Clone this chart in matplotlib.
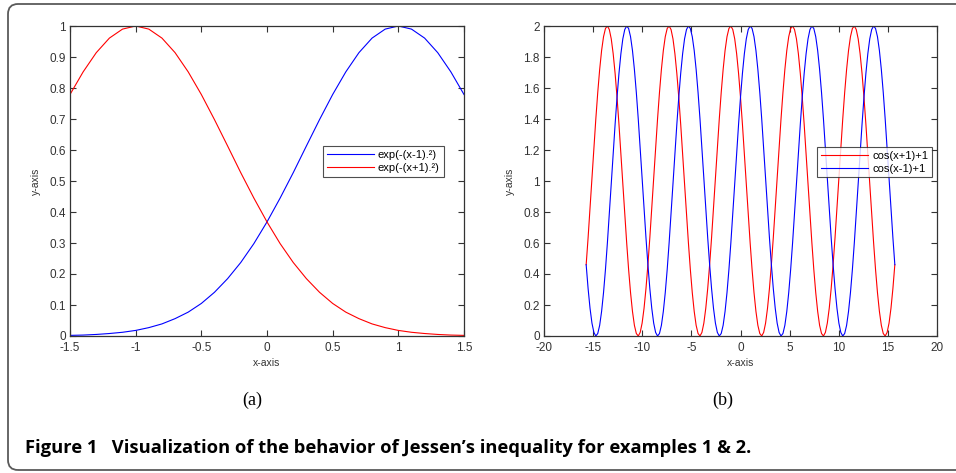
import numpy as np
import matplotlib
matplotlib.use("Agg")
import matplotlib.pyplot as plt
from matplotlib.patches import FancyBboxPatch
from matplotlib.transforms import IdentityTransform

plt.rcParams['font.family'] = ['Liberation Sans', 'DejaVu Sans']

# ---------------- data: panel (a) ----------------
x_a = [-1.5, -1.4, -1.3, -1.2, -1.1, -1.0, -0.9, -0.8, -0.7, -0.6, -0.5,
       -0.4, -0.3, -0.2, -0.1, 0.0, 0.1, 0.2, 0.3, 0.4, 0.5,
       0.6, 0.7, 0.8, 0.9, 1.0, 1.1, 1.2, 1.3, 1.4, 1.5]
exp_minus = [0.002, 0.003, 0.005, 0.008, 0.012, 0.018, 0.027, 0.039, 0.056, 0.077, 0.105,
             0.141, 0.185, 0.237, 0.298, 0.368, 0.445, 0.527, 0.613, 0.698, 0.779,
             0.852, 0.914, 0.961, 0.990, 1.000, 0.990, 0.961, 0.914, 0.852, 0.779]
exp_plus = [0.779, 0.852, 0.914, 0.961, 0.990, 1.000, 0.990, 0.961, 0.914, 0.852, 0.779,
            0.698, 0.613, 0.527, 0.445, 0.368, 0.298, 0.237, 0.185, 0.141, 0.105,
            0.077, 0.056, 0.039, 0.027, 0.018, 0.012, 0.008, 0.005, 0.003, 0.002]
labels_a = ['exp(-(x-1).²)', 'exp(-(x+1).²)']
xticks_a = [-1.5, -1, -0.5, 0, 0.5, 1, 1.5]
xticklabels_a = ['-1.5', '-1', '-0.5', '0', '0.5', '1', '1.5']
yticks_a = [0, 0.1, 0.2, 0.3, 0.4, 0.5, 0.6, 0.7, 0.8, 0.9, 1]
yticklabels_a = ['0', '0.1', '0.2', '0.3', '0.4', '0.5', '0.6', '0.7', '0.8', '0.9', '1']

# ---------------- data: panel (b) ----------------
x_b_start, x_b_end, x_b_count = -5 * np.pi, 5 * np.pi, 161
cos_plus = [
    0.460, 0.634, 0.823, 1.018, 1.213, 1.400, 1.571, 1.720, 1.842, 1.931, 1.984, 2.000, 1.977, 1.917, 1.821, 1.694,
    1.540, 1.366, 1.177, 0.982, 0.787, 0.601, 0.429, 0.280, 0.159, 0.069, 0.016, 0.000, 0.023, 0.083, 0.179, 0.306,
    0.460, 0.634, 0.823, 1.018, 1.213, 1.400, 1.571, 1.720, 1.842, 1.931, 1.984, 2.000, 1.977, 1.917, 1.821, 1.694,
    1.540, 1.366, 1.177, 0.982, 0.787, 0.601, 0.429, 0.280, 0.159, 0.069, 0.016, 0.000, 0.023, 0.083, 0.179, 0.306,
    0.460, 0.634, 0.823, 1.018, 1.213, 1.400, 1.571, 1.720, 1.842, 1.931, 1.984, 2.000, 1.977, 1.917, 1.821, 1.694,
    1.540, 1.366, 1.177, 0.982, 0.787, 0.601, 0.429, 0.280, 0.159, 0.069, 0.016, 0.000, 0.023, 0.083, 0.179, 0.306,
    0.460, 0.634, 0.823, 1.018, 1.213, 1.400, 1.571, 1.720, 1.842, 1.931, 1.984, 2.000, 1.977, 1.917, 1.821, 1.694,
    1.540, 1.366, 1.177, 0.982, 0.787, 0.601, 0.429, 0.280, 0.159, 0.069, 0.016, 0.000, 0.023, 0.083, 0.179, 0.306,
    0.460, 0.634, 0.823, 1.018, 1.213, 1.400, 1.571, 1.720, 1.842, 1.931, 1.984, 2.000, 1.977, 1.917, 1.821, 1.694,
    1.540, 1.366, 1.177, 0.982, 0.787, 0.601, 0.429, 0.280, 0.159, 0.069, 0.016, 0.000, 0.023, 0.083, 0.179, 0.306,
    0.460]
cos_minus = [
    0.460, 0.306, 0.179, 0.083, 0.023, 0.000, 0.016, 0.069, 0.159, 0.280, 0.429, 0.601, 0.787, 0.982, 1.177, 1.366,
    1.540, 1.694, 1.821, 1.917, 1.977, 2.000, 1.984, 1.931, 1.842, 1.720, 1.571, 1.400, 1.213, 1.018, 0.823, 0.634,
    0.460, 0.306, 0.179, 0.083, 0.023, 0.000, 0.016, 0.069, 0.159, 0.280, 0.429, 0.601, 0.787, 0.982, 1.177, 1.366,
    1.540, 1.694, 1.821, 1.917, 1.977, 2.000, 1.984, 1.931, 1.842, 1.720, 1.571, 1.400, 1.213, 1.018, 0.823, 0.634,
    0.460, 0.306, 0.179, 0.083, 0.023, 0.000, 0.016, 0.069, 0.159, 0.280, 0.429, 0.601, 0.787, 0.982, 1.177, 1.366,
    1.540, 1.694, 1.821, 1.917, 1.977, 2.000, 1.984, 1.931, 1.842, 1.720, 1.571, 1.400, 1.213, 1.018, 0.823, 0.634,
    0.460, 0.306, 0.179, 0.083, 0.023, 0.000, 0.016, 0.069, 0.159, 0.280, 0.429, 0.601, 0.787, 0.982, 1.177, 1.366,
    1.540, 1.694, 1.821, 1.917, 1.977, 2.000, 1.984, 1.931, 1.842, 1.720, 1.571, 1.400, 1.213, 1.018, 0.823, 0.634,
    0.460, 0.306, 0.179, 0.083, 0.023, 0.000, 0.016, 0.069, 0.159, 0.280, 0.429, 0.601, 0.787, 0.982, 1.177, 1.366,
    1.540, 1.694, 1.821, 1.917, 1.977, 2.000, 1.984, 1.931, 1.842, 1.720, 1.571, 1.400, 1.213, 1.018, 0.823, 0.634,
    0.460]
labels_b = ['cos(x+1)+1', 'cos(x-1)+1']
xticks_b = [-20, -15, -10, -5, 0, 5, 10, 15, 20]
xticklabels_b = ['-20', '-15', '-10', '-5', '0', '5', '10', '15', '20']
yticks_b = [0, 0.2, 0.4, 0.6, 0.8, 1, 1.2, 1.4, 1.6, 1.8, 2]
yticklabels_b = ['0', '0.2', '0.4', '0.6', '0.8', '1', '1.2', '1.4', '1.6', '1.8', '2']

caption = "Figure 1   Visualization of the behavior of Jessen\u2019s inequality for examples 1 & 2."

# ---------------- figure ----------------
W, H = 956, 473
fig = plt.figure(figsize=(W / 100, H / 100), dpi=100)
fig.patch.set_facecolor('white')

# rounded frame (open to the right)
frame = FancyBboxPatch((8, H - 470), 1000, 466,
                       boxstyle="round,pad=0,rounding_size=10",
                       transform=IdentityTransform(), facecolor='none',
                       edgecolor='#5a5a5a', linewidth=1.3)
fig.patches.append(frame)

AX_COL = '#333333'
TICK_FS = 8.5
LAB_FS = 7.5


def style_axes(ax, xlim, ylim, xt, xtl, yt, ytl):
    ax.set_xlim(*xlim)
    ax.set_ylim(*ylim)
    ax.set_xticks(xt)
    ax.set_xticklabels(xtl)
    ax.set_yticks(yt)
    ax.set_yticklabels(ytl)
    ax.tick_params(direction='in', length=4, width=0.8, colors=AX_COL,
                   labelsize=TICK_FS, top=True, right=True, pad=3)
    ax.tick_params(axis='x', pad=4.5)
    for s in ax.spines.values():
        s.set_color(AX_COL)
        s.set_linewidth(0.9)
    ax.set_xlabel('x-axis', fontsize=LAB_FS, color=AX_COL, labelpad=3)
    ax.set_ylabel('y-axis', fontsize=LAB_FS, color=AX_COL, labelpad=6)


def px_axes(l, t, r, b):
    return fig.add_axes([l / W, (H - b) / H, (r - l) / W, (b - t) / H])


# panel (a)
ax1 = px_axes(70, 26, 464, 336)
l1, = ax1.plot(x_a, exp_minus, color='#0000ff', lw=0.8)
l2, = ax1.plot(x_a, exp_plus, color='#ff0000', lw=0.8)
style_axes(ax1, (-1.5, 1.5), (0, 1), xticks_a, xticklabels_a, yticks_a, yticklabels_a)
leg1 = ax1.legend([l1, l2], labels_a, loc='upper left', bbox_to_anchor=(0.642, 0.613),
                  borderaxespad=0, fancybox=False, frameon=True, fontsize=8,
                  handlelength=4.2, handletextpad=0.4, borderpad=0.35,
                  labelspacing=0.25, edgecolor='#222222')
leg1.get_frame().set_linewidth(0.8)

# panel (b)
x_b = np.linspace(x_b_start, x_b_end, x_b_count)
ax2 = px_axes(544, 26, 937, 336)
m1, = ax2.plot(x_b, cos_plus, color='#ff0000', lw=0.8)
m2, = ax2.plot(x_b, cos_minus, color='#0000ff', lw=0.8)
style_axes(ax2, (-20, 20), (0, 2), xticks_b, xticklabels_b, yticks_b, yticklabels_b)
leg2 = ax2.legend([m1, m2], labels_b, loc='upper left', bbox_to_anchor=(0.695, 0.61),
                  borderaxespad=0, fancybox=False, frameon=True, fontsize=8,
                  handlelength=4.2, handletextpad=0.4, borderpad=0.35,
                  labelspacing=0.25, edgecolor='#222222')
leg2.get_frame().set_linewidth(0.8)

# sub-captions
fig.text(252 / W, 1 - 400 / H, '(a)', ha='center', va='center',
         family=['Liberation Serif', 'DejaVu Serif'], fontsize=13)
fig.text(723 / W, 1 - 400 / H, '(b)', ha='center', va='center',
         family=['Liberation Serif', 'DejaVu Serif'], fontsize=13)

# caption
fig.text(25 / W, 1 - 453 / H, caption, ha='left', va='baseline',
         family=['Open Sans', 'DejaVu Sans'], fontweight='bold', fontsize=13.2)

fig.savefig('out.png', dpi=100, facecolor='white')
